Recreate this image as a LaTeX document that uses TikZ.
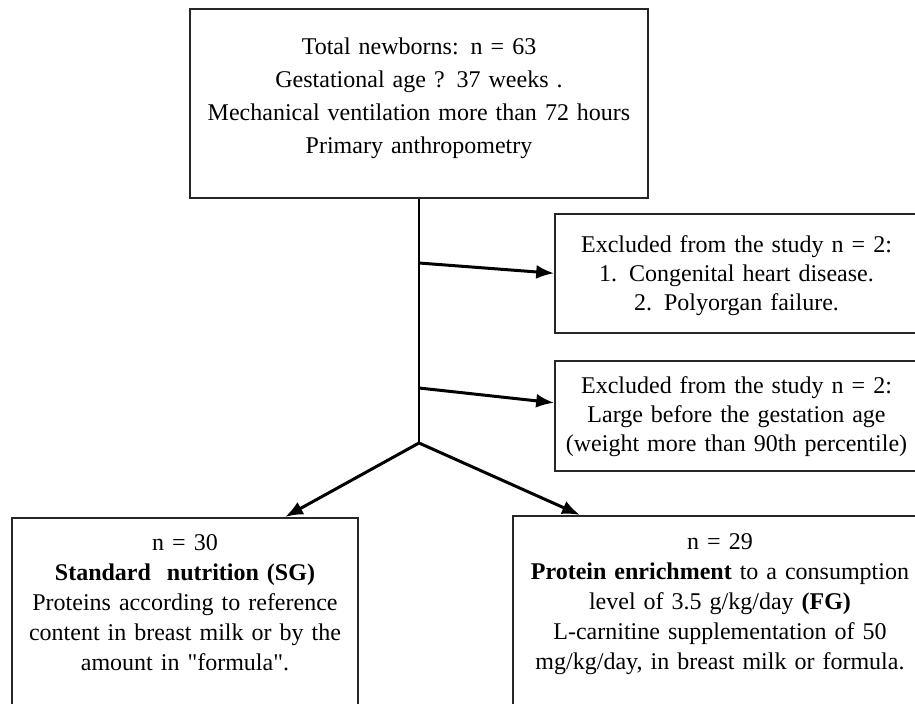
\documentclass[tikz,border=0pt]{standalone}
\usepackage{fontspec}
\setmainfont{Liberation Serif}
\usetikzlibrary{arrows.meta}

\begin{document}
\begin{tikzpicture}[x=0.5pt, y=-0.5pt
    , box/.style = {draw=black!85, line width=0.8pt, anchor=north, align=center,
        inner xsep=3pt, inner ysep=0pt, font=\fontsize{12}{14.5}\selectfont}
    , link/.style = {line width=1.5pt, -{Latex[length=9pt,width=7pt]}}
    , trunk/.style = {line width=0.6pt}
]
\useasboundingbox (0,0) rectangle (915,704);
% boxes
\node[box, text width=223pt, text height=23pt, text depth=71.5pt,
    font=\fontsize{12}{16.5}\selectfont] (total) at (419,8)
    {Total newborns: n = 63\\ Gestational age ? 37 weeks .\\
     Mechanical ventilation more than 72 hours\\ Primary anthropometry};
\node[box, text width=175.5pt, text height=19.5pt, text depth=40pt] (heart) at (736.5,213)
    {Excluded from the study n = 2:\\ 1. Congenital heart disease.\\
     2. Polyorgan failure.};
\node[box, text width=175.5pt, text height=16.5pt, text depth=38.5pt] (large) at (736.5,360)
    {Excluded from the study n = 2:\\ Large before the gestation age\\
     (weight more than 90th percentile)};
\node[box, text width=167pt, text height=16.5pt, text depth=85pt,
    font=\fontsize{12}{15}\selectfont] (std) at (185,517)
    {n = 30\\ \textbf{Standard\ \ nutrition (SG)}\\ Proteins according to reference\\
     content in breast milk or by the\\
     amount in \textquotedbl formula\textquotedbl.};
\node[box, text width=201pt, text height=17pt, text depth=85pt,
    font=\fontsize{12}{15}\selectfont] (enr) at (720,515)
    {n = 29\\ \textbf{Protein enrichment} to a consumption\\
     level of 3.5 g/kg/day \textbf{(FG)}\\ L-carnitine supplementation of 50\\
     mg/kg/day, in breast milk or formula.};
% connectors
\coordinate (t1) at (419,263);
\coordinate (t2) at (419,388);
\coordinate (split) at (419,443);
\draw[trunk] (total.south) -- (split);
\draw[link] (t1) -- (heart.west);
\draw[link] (t2) -- ([yshift=6.5pt]large.west);
\draw[link] (split) -- ([xshift=50pt]std.north);
\draw[link] (split) -- ([xshift=-70pt]enr.north);
\end{tikzpicture}
\end{document}
